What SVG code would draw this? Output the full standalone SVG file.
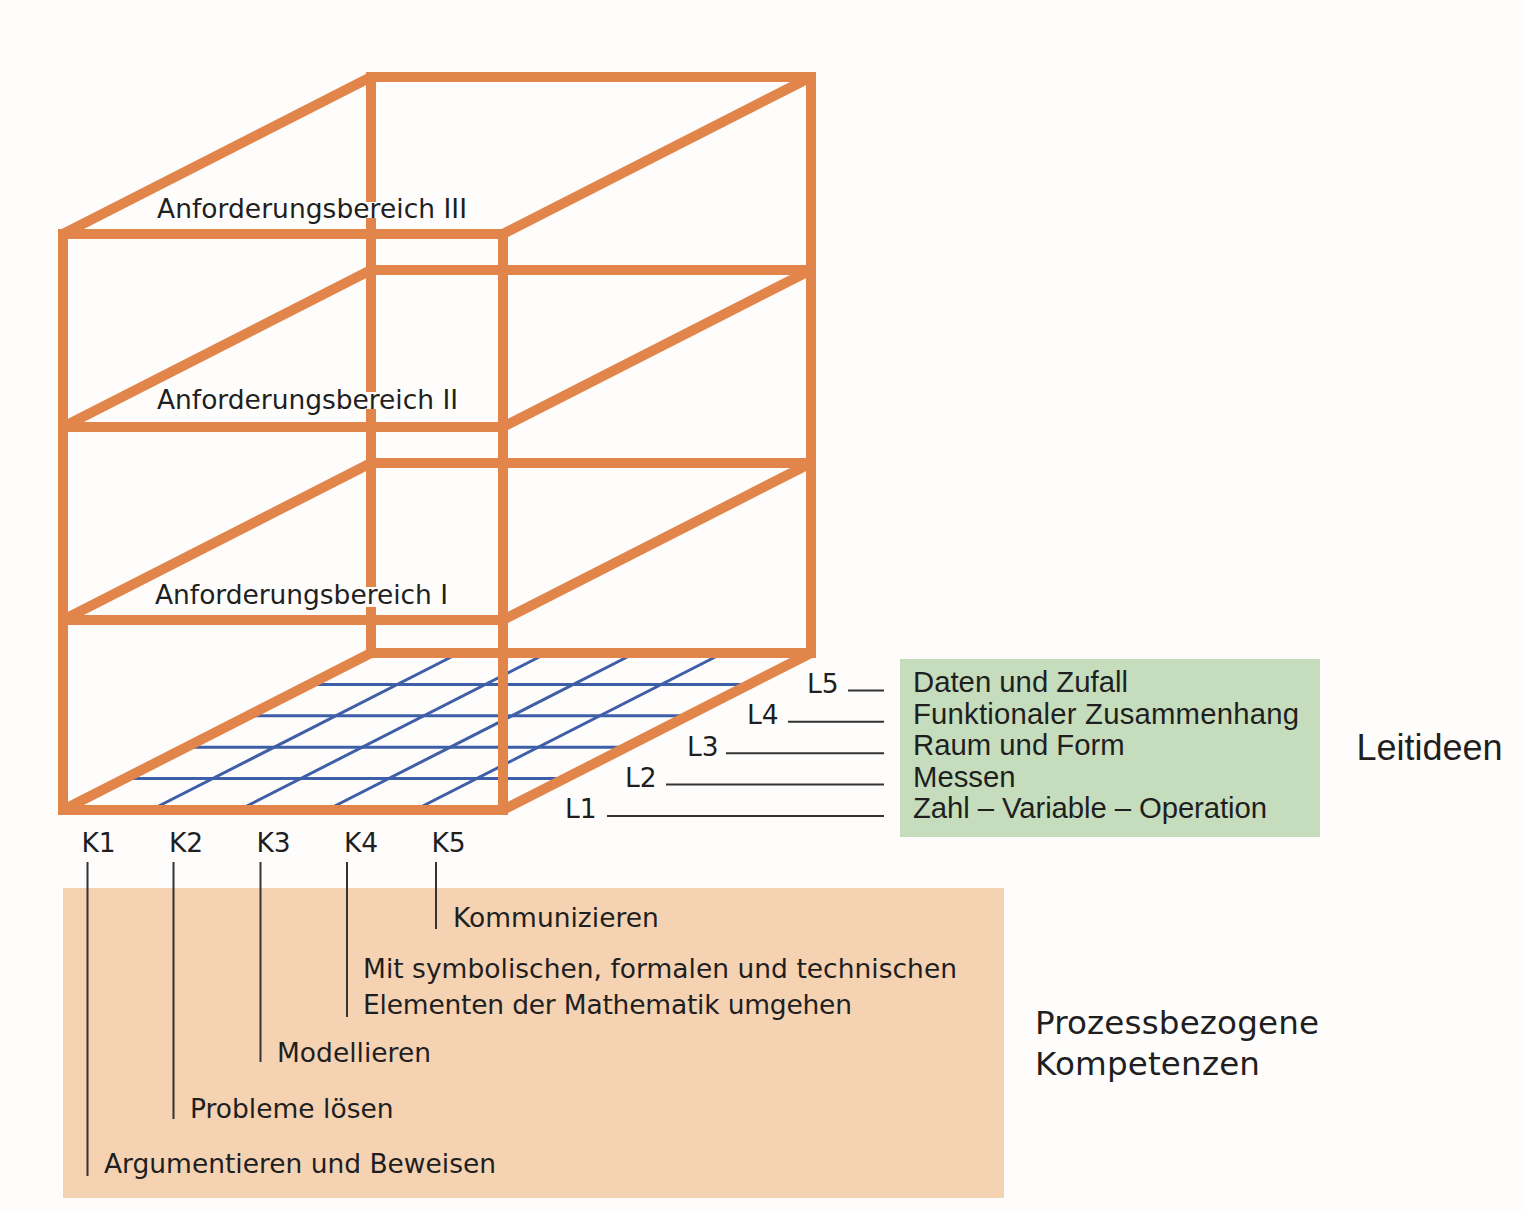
<svg xmlns="http://www.w3.org/2000/svg" width="1522" height="1214" viewBox="0 0 1522 1214">
<style>
.frame{fill:none;stroke:#E1854A;stroke-width:10;stroke-linecap:square;stroke-linejoin:miter}
.diag{fill:none;stroke:#E1854A;stroke-width:10;stroke-linecap:butt}
.grid{stroke:#3F5EA8;stroke-width:3;fill:none}
.lead{stroke:#333333;stroke-width:2;fill:none}
.u{font-family:"DejaVu Sans","Open Sans",sans-serif;font-size:26.5px;fill:#1f1f1f}
.h{font-family:"Liberation Sans",Arial,sans-serif;font-size:29.3px;fill:#1f1f1f}
.big{font-family:"Liberation Sans",Arial,sans-serif;font-size:36px;fill:#1f1f1f}
.bigu{font-family:"DejaVu Sans","Open Sans",sans-serif;font-size:32.6px;fill:#1f1f1f}
</style>
<rect x="0" y="0" width="1522" height="1214" fill="#FEFDFC"/>

<g id="floor-grid">
  <line class="grid" x1="124.6" y1="778.6" x2="564.6" y2="778.6"/>
  <line class="grid" x1="186.2" y1="747.2" x2="626.2" y2="747.2"/>
  <line class="grid" x1="247.8" y1="715.8" x2="687.8" y2="715.8"/>
  <line class="grid" x1="309.4" y1="684.4" x2="749.4" y2="684.4"/>
  <line class="grid" x1="151" y1="810" x2="459" y2="653"/>
  <line class="grid" x1="239" y1="810" x2="547" y2="653"/>
  <line class="grid" x1="327" y1="810" x2="635" y2="653"/>
  <line class="grid" x1="415" y1="810" x2="723" y2="653"/>
</g>

<g id="cube">
  <path class="frame" d="M371 77 H811 V653 H371"/>
  <path class="frame" d="M371 77 V197 M371 223 V387 M371 414 V582 M371 612 V653"/>
  <line class="frame" x1="371" y1="270" x2="811" y2="270"/>
  <line class="frame" x1="371" y1="463" x2="811" y2="463"/>
  <line class="diag" x1="63" y1="234" x2="371" y2="77"/>
  <line class="diag" x1="503" y1="234" x2="811" y2="77"/>
  <line class="diag" x1="63" y1="427" x2="371" y2="270"/>
  <line class="diag" x1="503" y1="427" x2="811" y2="270"/>
  <line class="diag" x1="63" y1="620" x2="371" y2="463"/>
  <line class="diag" x1="503" y1="620" x2="811" y2="463"/>
  <line class="diag" x1="63" y1="810" x2="371" y2="653"/>
  <line class="diag" x1="503" y1="810" x2="811" y2="653"/>
  <rect class="frame" x="63" y="234" width="440" height="576"/>
  <line class="frame" x1="63" y1="427" x2="503" y2="427"/>
  <line class="frame" x1="63" y1="620" x2="503" y2="620"/>
</g>

<g id="level-labels">
  <text id="ab3" class="u" x="157" y="218" textLength="310" lengthAdjust="spacing">Anforderungsbereich III</text>
  <text id="ab2" class="u" x="157" y="409" textLength="301" lengthAdjust="spacing">Anforderungsbereich II</text>
  <text id="ab1" class="u" x="155" y="604" textLength="293" lengthAdjust="spacing">Anforderungsbereich I</text>
</g>

<g id="leitideen-box">
  <rect x="900" y="659" width="420" height="178" fill="#C5DDBD"/>
  <text class="h" x="913" y="692">Daten und Zufall</text>
  <text class="h" x="913" y="723.6" textLength="386" lengthAdjust="spacing">Funktionaler Zusammenhang</text>
  <text class="h" x="913" y="755.2">Raum und Form</text>
  <text class="h" x="913" y="786.8">Messen</text>
  <text class="h" x="913" y="818.4" textLength="354" lengthAdjust="spacing">Zahl – Variable – Operation</text>
</g>
<g id="leitideen-title">
  <text class="big" x="1356.5" y="759.5">Leitideen</text>
</g>

<g id="kompetenzen-box">
  <rect x="63" y="888" width="941" height="310" fill="#F5D2B2"/>
  <text class="u" x="453" y="927">Kommunizieren</text>
  <text class="u" x="363" y="978" textLength="594" lengthAdjust="spacing">Mit symbolischen, formalen und technischen</text>
  <text class="u" x="363" y="1013.5" textLength="489" lengthAdjust="spacing">Elementen der Mathematik umgehen</text>
  <text class="u" x="277" y="1062">Modellieren</text>
  <text class="u" x="190" y="1118">Probleme lösen</text>
  <text class="u" x="104" y="1173" textLength="392" lengthAdjust="spacing">Argumentieren und Beweisen</text>
</g>
<g id="kompetenzen-title">
  <text class="bigu" x="1035" y="1034" textLength="284" lengthAdjust="spacing">Prozessbezogene</text>
  <text class="bigu" x="1035" y="1075" textLength="225" lengthAdjust="spacing">Kompetenzen</text>
</g>

<g id="k-labels">
  <text class="u" x="98.5" y="852" text-anchor="middle">K1</text>
  <text class="u" x="186" y="852" text-anchor="middle">K2</text>
  <text class="u" x="273.5" y="852" text-anchor="middle">K3</text>
  <text class="u" x="361" y="852" text-anchor="middle">K4</text>
  <text class="u" x="448.5" y="852" text-anchor="middle">K5</text>
</g>

<g id="l-labels">
  <text class="u" x="565" y="818">L1</text>
  <text class="u" x="625" y="787">L2</text>
  <text class="u" x="687" y="755.5">L3</text>
  <text class="u" x="747" y="724">L4</text>
  <text class="u" x="807" y="692.5">L5</text>
</g>

<g id="connectors">
  <line class="lead" x1="87.5" y1="862" x2="87.5" y2="1176"/>
  <line class="lead" x1="173.5" y1="862" x2="173.5" y2="1119"/>
  <line class="lead" x1="260.5" y1="862" x2="260.5" y2="1062"/>
  <line class="lead" x1="347" y1="862" x2="347" y2="1017"/>
  <line class="lead" x1="436" y1="862" x2="436" y2="929"/>
  <line class="lead" x1="607" y1="816" x2="884" y2="816"/>
  <line class="lead" x1="666" y1="784.6" x2="884" y2="784.6"/>
  <line class="lead" x1="726" y1="753.2" x2="884" y2="753.2"/>
  <line class="lead" x1="788" y1="721.8" x2="884" y2="721.8"/>
  <line class="lead" x1="848" y1="690.4" x2="884" y2="690.4"/>
</g>
</svg>
